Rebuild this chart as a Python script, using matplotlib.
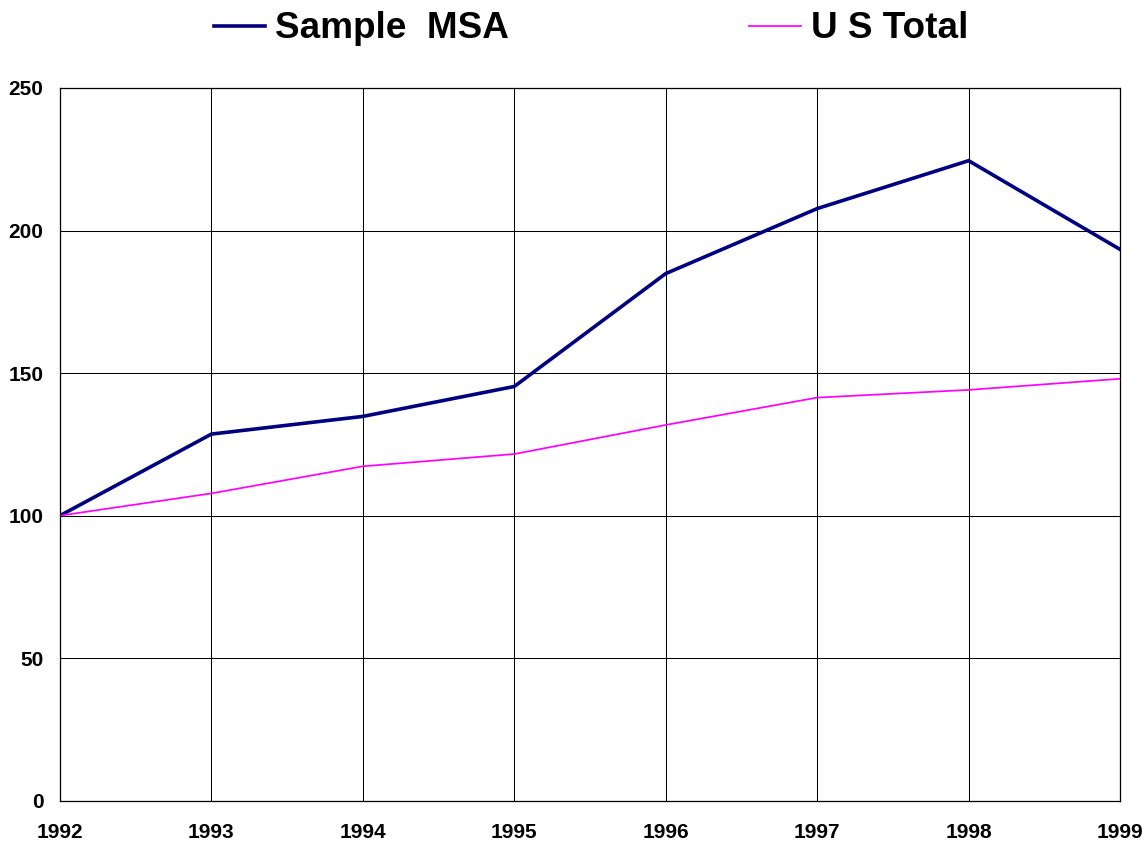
import matplotlib
matplotlib.use("Agg")
import matplotlib.pyplot as plt

years = [1992, 1993, 1994, 1995, 1996, 1997, 1998, 1999]
sample_msa = [100, 128.6, 134.8, 145.3, 184.9, 207.7, 224.5, 193.4]
us_total = [100, 107.8, 117.3, 121.6, 131.8, 141.4, 144.1, 148.0]
y_ticks = [0, 50, 100, 150, 200, 250]
series_labels = ["Sample  MSA", "U S Total"]

plt.rcParams['font.family'] = ['Liberation Sans', 'DejaVu Sans']

fig = plt.figure(figsize=(11.48, 8.44), dpi=100)
ax = fig.add_axes([60/1148, 1-800.7/844, (1120-60)/1148, (800.7-88)/844])

l1, = ax.plot(years, sample_msa, color='#000080', lw=2.6, label=series_labels[0], solid_joinstyle='miter')
l2, = ax.plot(years, us_total, color='#FF00FF', lw=1.25, label=series_labels[1])

ax.set_xlim(years[0], years[-1])
ax.set_ylim(0, 250)
ax.set_xticks(years)
ax.set_xticklabels([str(y) for y in years])
ax.set_yticks(y_ticks)
ax.grid(True, color='black', lw=0.75)
ax.set_axisbelow(True)
for s in ax.spines.values():
    s.set_color('black')
    s.set_linewidth(0.9)
ax.tick_params(length=0, labelsize=15)
ax.tick_params(axis='y', pad=12)
ax.tick_params(axis='x', pad=16)
for lab in ax.get_xticklabels() + ax.get_yticklabels():
    lab.set_fontweight('bold')

fig.legend(handles=[l1, l2], loc='center', bbox_to_anchor=(591/1148, 1-29/844),
           ncol=2, frameon=False, prop={'size': 26.6, 'weight': 'bold'},
           handlelength=1.4, handletextpad=0.27, columnspacing=6.5)

fig.savefig('out.png', dpi=100)
